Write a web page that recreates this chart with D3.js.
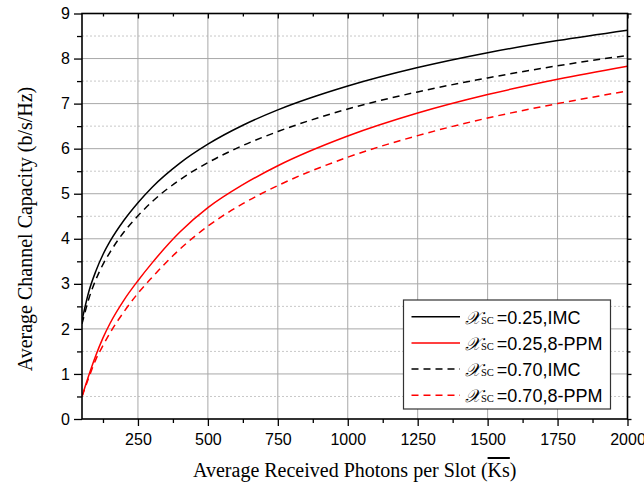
<!DOCTYPE html>
<html>
<head>
<meta charset="utf-8">
<script src="https://cdn.jsdelivr.net/npm/d3@7"></script>
<style>
  html, body { margin: 0; padding: 0; background: #fff; }
  svg { display: block; }
</style>
</head>
<body>
<svg id="chart" width="644" height="484"></svg>
<script>
// ---- data ----
const photons = [50, 75, 100, 125, 150, 200, 250, 300, 400, 500, 625, 750, 1000, 1250, 1500, 1750, 2000];
const imc025  = [2.19, 2.84, 3.29, 3.65, 3.94, 4.41, 4.80, 5.14, 5.68, 6.10, 6.52, 6.86, 7.39, 7.80, 8.13, 8.40, 8.63];
const ppm025  = [0.5, 0.98, 1.42, 1.80, 2.12, 2.64, 3.07, 3.46, 4.15, 4.69, 5.20, 5.62, 6.28, 6.79, 7.20, 7.54, 7.83];
const imc070  = [2.11, 2.68, 3.10, 3.43, 3.70, 4.15, 4.51, 4.82, 5.31, 5.69, 6.07, 6.38, 6.88, 7.26, 7.57, 7.84, 8.07];
const ppm070  = [0.5, 0.93, 1.33, 1.63, 1.91, 2.38, 2.79, 3.14, 3.77, 4.28, 4.78, 5.18, 5.81, 6.29, 6.68, 7.00, 7.28];
const seriesNames = ["=0.25,IMC", "=0.25,8-PPM", "=0.70,IMC", "=0.70,8-PPM"];
const xTicks = [250, 500, 750, 1000, 1250, 1500, 1750, 2000];
const xMinor = [125, 375, 625, 875, 1125, 1375, 1625, 1875];
const yTicks = [0, 1, 2, 3, 4, 5, 6, 7, 8, 9];
const yMinor = [0.5, 1.5, 2.5, 3.5, 4.5, 5.5, 6.5, 7.5, 8.5];
const xTitle = "Average Received Photons per Slot (";
const yTitle = "Average Channel Capacity (b/s/Hz)";

// ---- layout ----
const L = 82, R = 627.5, T = 13.5, B = 419;
const x = d3.scaleLinear().domain([50, 2000]).range([L, R]);
const y = d3.scaleLinear().domain([0, 9]).range([B, T]);
const svg = d3.select("#chart");

svg.append("rect").attr("width", 644).attr("height", 484).attr("fill", "#fff");

// grid
const grid = svg.append("g");
grid.selectAll(".ym").data(yMinor).join("line")
  .attr("x1", L).attr("x2", R).attr("y1", d => y(d)).attr("y2", d => y(d))
  .attr("stroke", "#c8c8c8").attr("stroke-width", 1).attr("stroke-dasharray", "2,2");
grid.selectAll(".yM").data(yTicks.filter(d => d > 0 && d < 9)).join("line")
  .attr("x1", L).attr("x2", R).attr("y1", d => y(d)).attr("y2", d => y(d))
  .attr("stroke", "#a8a8a8").attr("stroke-width", 1);
grid.selectAll(".xM").data(xTicks.filter(d => d < 2000)).join("line")
  .attr("y1", T).attr("y2", B).attr("x1", d => x(d)).attr("x2", d => x(d))
  .attr("stroke", "#a8a8a8").attr("stroke-width", 1);

// curves
const series = [
  { v: imc025, color: "#000", dash: null },
  { v: ppm025, color: "#ff0000", dash: null },
  { v: imc070, color: "#000", dash: "7,5" },
  { v: ppm070, color: "#ff0000", dash: "7,5" }
];
const line = d3.line().x(d => x(d[0])).y(d => y(d[1])).curve(d3.curveMonotoneX);
svg.append("clipPath").attr("id", "pc").append("rect")
  .attr("x", L).attr("y", T).attr("width", R - L).attr("height", B - T);
svg.append("g").attr("clip-path", "url(#pc)").selectAll("path").data(series).join("path")
  .attr("d", s => line(photons.map((p, i) => [p, s.v[i]])))
  .attr("fill", "none").attr("stroke", s => s.color).attr("stroke-width", 1.5)
  .attr("stroke-dasharray", s => s.dash);

// axes
const tickFont = "'Liberation Sans', Arial, sans-serif";
svg.append("g").attr("transform", `translate(0,${B})`)
  .call(d3.axisBottom(x).tickValues(xTicks).tickSize(7).tickPadding(8).tickFormat(d3.format("d")));
svg.append("g").attr("transform", `translate(0,${B})`)
  .call(d3.axisBottom(x).tickValues(xMinor).tickSize(4).tickFormat(""));
svg.append("g").attr("transform", `translate(${L},0)`)
  .call(d3.axisLeft(y).tickValues(yTicks).tickSize(8).tickPadding(4).tickFormat(d3.format("d")));
svg.append("g").attr("transform", `translate(${L},0)`)
  .call(d3.axisLeft(y).tickValues(yMinor).tickSize(5).tickFormat(""));
svg.append("g").attr("transform", `translate(0,${T})`)
  .call(d3.axisBottom(x).tickValues(xTicks).tickSize(5).tickFormat(""));
svg.append("g").attr("transform", `translate(0,${T})`)
  .call(d3.axisBottom(x).tickValues(xMinor).tickSize(3).tickFormat(""));
svg.append("g").attr("transform", `translate(${R},0)`)
  .call(d3.axisRight(y).tickValues(yTicks).tickSize(4).tickFormat(""));
svg.append("g").attr("transform", `translate(${R},0)`)
  .call(d3.axisRight(y).tickValues(yMinor).tickSize(3).tickFormat(""));

svg.selectAll(".domain").remove();
svg.selectAll(".tick line").attr("stroke", "#000").attr("stroke-width", 1.3);
svg.selectAll(".tick text").attr("fill", "#000").attr("font-family", tickFont).attr("font-size", 16);

// frame
svg.append("rect").attr("x", L).attr("y", T).attr("width", R - L).attr("height", B - T)
  .attr("fill", "none").attr("stroke", "#000").attr("stroke-width", 1.6);

// titles
const serif = "'Liberation Serif', 'Times New Roman', serif";
const xt = svg.append("text").attr("x", (L + R) / 2).attr("y", 477)
  .attr("text-anchor", "middle").attr("font-family", serif).attr("font-size", 20).attr("fill", "#000");
xt.append("tspan").text(xTitle);
xt.append("tspan").attr("text-decoration", "overline").style("text-decoration", "overline").text("Ks");
xt.append("tspan").text(")");

svg.append("text").attr("transform", "translate(32,229) rotate(-90)")
  .attr("text-anchor", "middle").attr("font-family", serif).attr("font-size", 20).attr("fill", "#000")
  .text(yTitle);

// legend
const lg = svg.append("g");
lg.append("rect").attr("x", 403.5).attr("y", 300).attr("width", 207).attr("height", 109)
  .attr("fill", "#fff").attr("stroke", "#333").attr("stroke-width", 1.2);
const rows = lg.selectAll("g.row").data(series).join("g")
  .attr("transform", (d, i) => `translate(0,${316.7 + i * 26.2})`);
rows.append("line").attr("x1", 411.5).attr("x2", 460).attr("y1", 0).attr("y2", 0)
  .attr("stroke", d => d.color).attr("stroke-width", 1.5).attr("stroke-dasharray", d => d.dash);
const lt = rows.append("text").attr("x", 465).attr("y", 6.8).attr("fill", "#000");
lt.append("tspan").attr("font-family", serif).attr("font-style", "italic").attr("font-size", 18).text("𝒳");
lt.append("tspan").attr("font-family", serif).attr("font-size", 10.5).attr("dx", 1).text("SC");
lt.append("tspan").attr("font-family", tickFont).attr("font-size", 18).attr("dx", 3).text((d, i) => seriesNames[i]);
</script>
</body>
</html>
